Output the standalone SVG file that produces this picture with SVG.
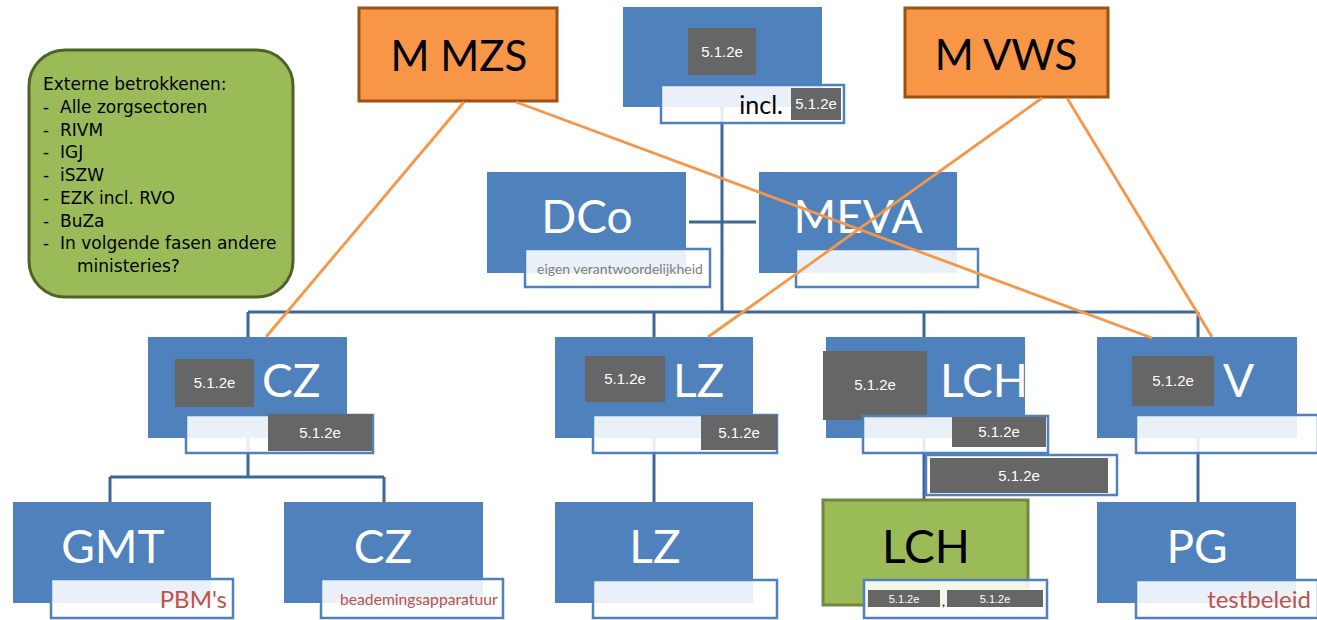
<svg xmlns="http://www.w3.org/2000/svg" width="1317" height="620" viewBox="0 0 1317 620">
<style>
.bl{fill:#4F81BD}
.lb{fill:#FFFFFF;fill-opacity:0.88;stroke:#4F81BD;stroke-width:2.5}
.gr{fill:#666666}
.gt{font-family:"Liberation Sans",Arial,sans-serif;font-size:15px;fill:#FFFFFF;text-anchor:middle}
.gs{font-family:"Liberation Sans",Arial,sans-serif;font-size:11px;fill:#FFFFFF;text-anchor:middle}
.big{font-family:Lato,"Liberation Sans",sans-serif;font-size:46px;fill:#FFFFFF}
.mid{text-anchor:middle}
.red{font-family:Lato,"Liberation Sans",sans-serif;fill:#C0504D}
.con{stroke:#3D6698;stroke-width:3;fill:none}
.or{stroke:#F79646;stroke-width:2.8;fill:none}
.ob{fill:#F79646;stroke:#9C5212;stroke-width:3}
.ext{font-family:"DejaVu Sans",Verdana,sans-serif;font-size:17px;fill:#000000}
</style>
<rect width="1317" height="620" fill="#FFFFFF"/>
<g id="connectors">
<line class="con" x1="722" y1="107" x2="722" y2="312"/>
<line class="con" x1="689" y1="222" x2="756" y2="222"/>
<line class="con" x1="248" y1="312" x2="1198" y2="312"/>
<line class="con" x1="248" y1="312" x2="248" y2="338"/>
<line class="con" x1="654" y1="312" x2="654" y2="338"/>
<line class="con" x1="924" y1="312" x2="924" y2="338"/>
<line class="con" x1="1198" y1="312" x2="1198" y2="338"/>
<line class="con" x1="248" y1="438" x2="248" y2="477"/>
<line class="con" x1="110" y1="477" x2="384" y2="477"/>
<line class="con" x1="110" y1="477" x2="110" y2="503"/>
<line class="con" x1="384" y1="477" x2="384" y2="503"/>
<line class="con" x1="654" y1="438" x2="654" y2="503"/>
<line class="con" x1="924" y1="438" x2="924" y2="501"/>
<line class="con" x1="1198" y1="438" x2="1198" y2="503"/>
</g>
<g id="externe">
<rect x="29" y="50" width="264" height="247" rx="36" fill="#9BBB59" stroke="#4F6228" stroke-width="3"/>
<text class="ext" x="43" y="90">Externe betrokkenen:</text>
<text class="ext" x="43" y="113">-</text><text class="ext" x="60" y="113">Alle zorgsectoren</text>
<text class="ext" x="43" y="136">-</text><text class="ext" x="60" y="136">RIVM</text>
<text class="ext" x="43" y="158">-</text><text class="ext" x="60" y="158">IGJ</text>
<text class="ext" x="43" y="181">-</text><text class="ext" x="60" y="181">iSZW</text>
<text class="ext" x="43" y="204">-</text><text class="ext" x="60" y="204">EZK incl. RVO</text>
<text class="ext" x="43" y="227">-</text><text class="ext" x="60" y="227">BuZa</text>
<text class="ext" x="43" y="249">-</text><text class="ext" x="60" y="249">In volgende fasen andere</text>
<text class="ext" x="77" y="272">ministeries?</text>
</g>
<g id="mmzs">
<rect class="ob" x="359" y="8" width="198" height="93"/>
<text x="459" y="71" font-family="Lato,'Liberation Sans',sans-serif" font-size="42" fill="#000000" text-anchor="middle">M MZS</text>
</g>
<g id="mvws">
<rect class="ob" x="905" y="8" width="203" height="89"/>
<text x="1006" y="70" font-family="Lato,'Liberation Sans',sans-serif" font-size="42" fill="#000000" text-anchor="middle">M VWS</text>
</g>
<g id="top">
<rect class="bl" x="623" y="7" width="199" height="100"/>
<rect class="gr" x="688" y="28" width="68" height="47"/>
<text class="gt" x="722" y="57">5.1.2e</text>
<rect class="lb" x="661" y="85" width="183" height="38"/>
<text x="783" y="114" font-family="Lato,'Liberation Sans',sans-serif" font-size="25" fill="#000000" text-anchor="end">incl.</text>
<rect class="gr" x="791" y="88" width="50" height="32"/>
<text class="gt" x="816" y="109" font-size="14">5.1.2e</text>
</g>
<g id="dco">
<rect class="bl" x="487" y="172" width="199" height="101"/>
<text class="big mid" x="587" y="233">DCo</text>
<rect class="lb" x="525" y="249" width="185" height="38"/>
<text x="537" y="274" font-family="Lato,'Liberation Sans',sans-serif" font-size="14" fill="#7F7F7F">eigen verantwoordelijkheid</text>
</g>
<g id="meva">
<rect class="bl" x="759" y="172" width="198" height="101"/>
<text class="big mid" x="858" y="233">MEVA</text>
<rect class="lb" x="796" y="249" width="182" height="38"/>
</g>
<g id="cz">
<rect class="bl" x="148" y="337" width="199" height="101"/>
<rect class="gr" x="175" y="359" width="79" height="48"/>
<text class="gt" x="214.5" y="388">5.1.2e</text>
<text class="big" x="262" y="397">CZ</text>
<rect class="lb" x="186" y="415" width="187" height="38"/>
<rect class="gr" x="268" y="414" width="104" height="37"/>
<text class="gt" x="320" y="438">5.1.2e</text>
</g>
<g id="lz">
<rect class="bl" x="555" y="337" width="198" height="101"/>
<rect class="gr" x="585" y="356" width="80" height="46"/>
<text class="gt" x="625" y="384">5.1.2e</text>
<text class="big" x="673" y="397">LZ</text>
<rect class="lb" x="593" y="415" width="184" height="38"/>
<rect class="gr" x="701" y="415" width="76" height="35"/>
<text class="gt" x="739" y="438">5.1.2e</text>
</g>
<g id="lch">
<rect class="bl" x="826" y="337" width="199" height="101"/>
<rect class="gr" x="823" y="351" width="104" height="69"/>
<text class="gt" x="875" y="390">5.1.2e</text>
<text class="big" x="940" y="397">LCH</text>
<rect class="lb" x="863" y="416" width="185" height="37"/>
<rect class="gr" x="952" y="417" width="94" height="30"/>
<text class="gt" x="999" y="437">5.1.2e</text>
<rect class="lb" x="926" y="455" width="191" height="40"/>
<rect class="gr" x="930" y="458" width="178" height="35"/>
<text class="gt" x="1019" y="481">5.1.2e</text>
</g>
<g id="v">
<rect class="bl" x="1097" y="337" width="200" height="101"/>
<rect class="gr" x="1132" y="356" width="82" height="50"/>
<text class="gt" x="1173" y="386">5.1.2e</text>
<text class="big" x="1223" y="397">V</text>
<rect class="lb" x="1136" y="415" width="182" height="38"/>
</g>
<g id="gmt">
<rect class="bl" x="13" y="502" width="198" height="101"/>
<text class="big mid" x="113" y="563">GMT</text>
<rect class="lb" x="51" y="579" width="182" height="39"/>
<text class="red" x="227" y="608" font-size="24" text-anchor="end">PBM's</text>
</g>
<g id="cz2">
<rect class="bl" x="284" y="502" width="199" height="101"/>
<text class="big mid" x="383" y="563">CZ</text>
<rect class="lb" x="321" y="579" width="182" height="39"/>
<text class="red" x="340" y="605" font-size="15.7">beademingsapparatuur</text>
</g>
<g id="lz2">
<rect class="bl" x="555" y="502" width="198" height="101"/>
<text class="big mid" x="655" y="563">LZ</text>
<rect class="lb" x="593" y="580" width="184" height="38"/>
</g>
<g id="lch2">
<rect x="823" y="500" width="205" height="105" fill="#9BBB59" stroke="#71893F" stroke-width="3"/>
<text x="926" y="563" font-family="Lato,'Liberation Sans',sans-serif" font-size="46" fill="#000000" text-anchor="middle">LCH</text>
<rect class="lb" x="864" y="580" width="183" height="38"/>
<rect class="gr" x="868" y="590" width="72" height="17"/>
<text class="gs" x="904" y="603">5.1.2e</text>
<text x="942" y="606" font-family="Lato,'Liberation Sans',sans-serif" font-size="13" fill="#000000">,</text>
<rect class="gr" x="947" y="590" width="96" height="17"/>
<text class="gs" x="995" y="603">5.1.2e</text>
</g>
<g id="pg">
<rect class="bl" x="1097" y="502" width="199" height="101"/>
<text class="big mid" x="1197" y="563">PG</text>
<rect class="lb" x="1136" y="580" width="182" height="38"/>
<text class="red" x="1311" y="608" font-size="24" text-anchor="end">testbeleid</text>
</g>
<g id="orange-links">
<line class="or" x1="464" y1="102" x2="266" y2="337"/>
<line class="or" x1="516" y1="102" x2="1152" y2="338"/>
<line class="or" x1="1042" y1="98" x2="708" y2="337"/>
<line class="or" x1="1067" y1="98" x2="1212" y2="337"/>
</g>
</svg>
